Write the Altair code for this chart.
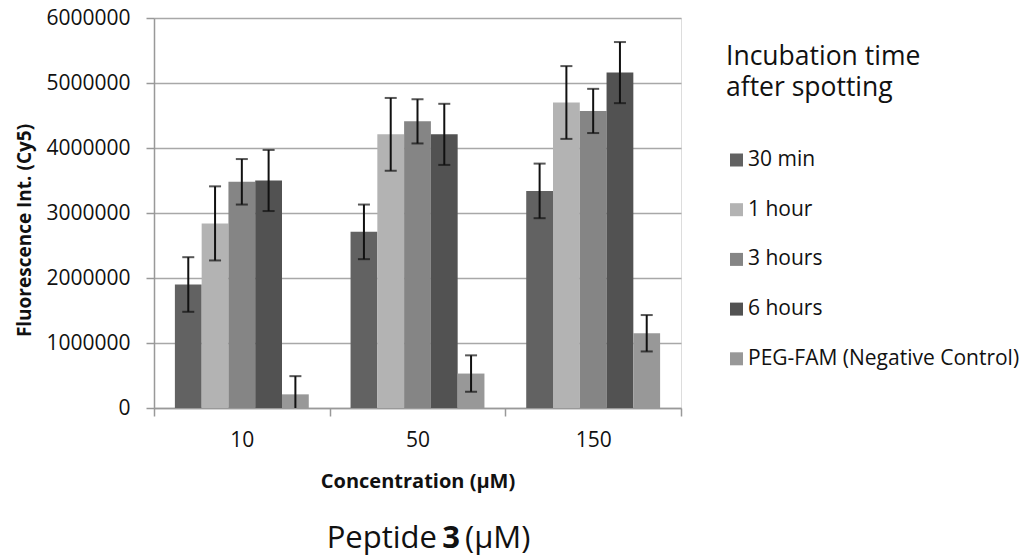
import altair as alt
import pandas as pd

categories = ["10", "50", "150"]
series = ["30 min", "1 hour", "3 hours", "6 hours", "PEG-FAM (Negative Control)"]
colors = ["#626262", "#b3b3b3", "#858585", "#525252", "#989898"]

val_30min = [1900000, 2710000, 3340000]
err_30min = [420000, 420000, 420000]
val_1h = [2840000, 4210000, 4700000]
err_1h = [570000, 560000, 560000]
val_3h = [3480000, 4410000, 4570000]
err_3h = [350000, 340000, 340000]
val_6h = [3500000, 4210000, 5160000]
err_6h = [470000, 470000, 470000]
val_peg = [210000, 530000, 1150000]
err_peg = [280000, 280000, 280000]

y_ticks = [0, 1000000, 2000000, 3000000, 4000000, 5000000, 6000000]
bottom_words = ["Peptide", "3", "(μM)"]

rows = []
for s, vals, errs in zip(series,
                         [val_30min, val_1h, val_3h, val_6h, val_peg],
                         [err_30min, err_1h, err_3h, err_6h, err_peg]):
    for c, v, e in zip(categories, vals, errs):
        rows.append({"conc": c, "series": s, "value": v, "lo": v - e, "hi": v + e})
df = pd.DataFrame(rows)

FONT = "Open Sans"

x = alt.X("conc:N", sort=categories,
          scale=alt.Scale(paddingInner=0, paddingOuter=0),
          axis=alt.Axis(title="Concentration (μM)", labelAngle=0, tickBand="extent",
                        labelFontSize=21, labelFont=FONT, labelColor="#111",
                        labelPadding=13, tickSize=8, tickColor="#999", tickWidth=1.5,
                        domainColor="#999", domainWidth=1.5,
                        titleFont=FONT, titleFontSize=20, titleFontWeight="bold",
                        titleColor="#111", titleY=79, titleBaseline="alphabetic"))
xo = alt.XOffset("series:N", sort=series,
                 scale=alt.Scale(paddingInner=0, paddingOuter=0.78))
yscale = alt.Scale(domain=[0, 6000000], nice=False)

bars = alt.Chart(df).mark_bar().encode(
    x=x, xOffset=xo,
    y=alt.Y("value:Q", scale=yscale,
            axis=alt.Axis(title="Fluorescence Int. (Cy5)", values=y_ticks, format="d",
                          grid=True, gridColor="#a8a8a8", gridWidth=1.5,
                          labelFontSize=21, labelFont=FONT, labelColor="#111",
                          labelPadding=16, tickSize=8, tickColor="#999", tickWidth=1.5,
                          domainColor="#999", domainWidth=1.5,
                          titleFont=FONT, titleFontSize=19, titleFontWeight="bold",
                          titleColor="#111", titleX=-124, titleY=212,
                          titleBaseline="alphabetic", titleAlign="center")),
    color=alt.Color("series:N", sort=series,
                    scale=alt.Scale(domain=series, range=colors),
                    legend=alt.Legend(title=["Incubation time", "after spotting"],
                                      orient="none", legendX=572, legendY=26,
                                      padding=0,
                                      symbolType="square", symbolSize=169,
                                      symbolStrokeWidth=0,
                                      labelFont=FONT, labelFontSize=21, labelColor="#111",
                                      labelOffset=1, rowPadding=27.7, labelLimit=0,
                                      titleLimit=0,
                                      titleFont=FONT, titleFontSize=26.5,
                                      titleFontWeight="normal", titleColor="#111",
                                      titleLineHeight=31, titlePadding=48)),
)

rule = alt.Chart(df).mark_rule(clip=True, color="#111", strokeWidth=2).encode(
    x=x, xOffset=xo, y=alt.Y("lo:Q", scale=yscale), y2="hi:Q")
cap_hi = alt.Chart(df).mark_tick(clip=True, color="#111", thickness=2, size=12).encode(
    x=x, xOffset=xo, y=alt.Y("hi:Q", scale=yscale))
cap_lo = alt.Chart(df).mark_tick(clip=True, color="#111", thickness=2, size=12).encode(
    x=x, xOffset=xo, y=alt.Y("lo:Q", scale=yscale))

words = pd.DataFrame({"w": bottom_words})
t1 = alt.Chart(words).transform_filter(alt.datum.w == bottom_words[0]).mark_text(
    font=FONT, fontSize=31, align="right", baseline="alphabetic", color="#111"
).encode(text="w:N", x=alt.value(283), y=alt.value(530))
t2 = alt.Chart(words).transform_filter(alt.datum.w == bottom_words[1]).mark_text(
    font=FONT, fontSize=31, fontWeight="bold", align="center", baseline="alphabetic", color="#111"
).encode(text="w:N", x=alt.value(297), y=alt.value(530))
t3 = alt.Chart(words).transform_filter(alt.datum.w == bottom_words[2]).mark_text(
    font=FONT, fontSize=31, align="left", baseline="alphabetic", color="#111"
).encode(text="w:N", x=alt.value(311), y=alt.value(530))

chart = alt.layer(bars, rule, cap_hi, cap_lo, t1, t2, t3).properties(
    width=527, height=390,
    autosize=alt.AutoSizeParams(type="none"),
    padding={"left": 146, "top": 10, "right": 340, "bottom": 148},
).configure_view(stroke=None).configure(background="white")

chart.save("out.html", embed_options={"renderer": "svg", "actions": False})
